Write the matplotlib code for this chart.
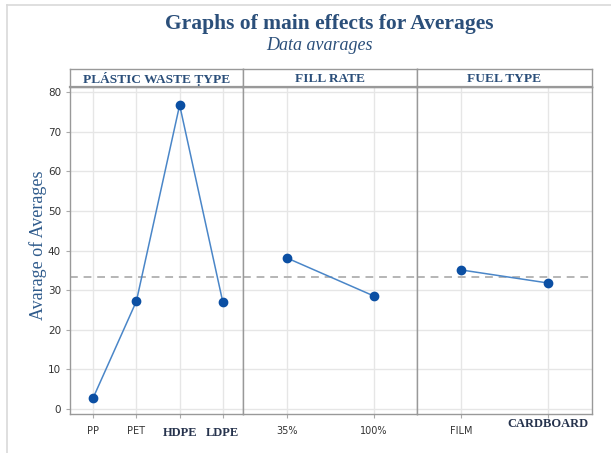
import matplotlib
matplotlib.use("Agg")
import matplotlib.pyplot as plt
from matplotlib.lines import Line2D

# ---- data ----
panel_titles = ["PLÁSTIC WASTE ṬYPE", "FILL RATE", "FUEL TYPE"]
plastic_labels = ["PP", "PET", "HDPE", "LDPE"]
plastic_values = [2.8, 27.2, 76.7, 26.9]
fill_labels = ["35%", "100%"]
fill_values = [38.1, 28.5]
fuel_labels = ["FILM", "CARDBOARD"]
fuel_values = [35.1, 31.8]
overall_mean = 33.3
y_ticks = [0, 10, 20, 30, 40, 50, 60, 70, 80]
serif_labels = {"HDPE", "LDPE", "CARDBOARD"}

W, H = 611, 453
fig = plt.figure(figsize=(W / 100, H / 100), dpi=100)
fig.patch.set_facecolor("white")

def fx(px):
    return px / W

def fy(py):
    return 1 - py / H

# outer light frame
fig.add_artist(Line2D([fx(7), fx(611)], [fy(4.5), fy(4.5)], color="#d9d9d9", lw=1.2))
fig.add_artist(Line2D([fx(7), fx(7)], [fy(4.5), fy(453)], color="#d9d9d9", lw=1.2))

title_color = "#2b4f7a"
fig.text(fx(329), fy(24), "Graphs of main effects for Averages", ha="center", va="center",
         fontsize=15.5, fontweight="bold", family="Liberation Serif", color=title_color)
fig.text(fx(319), fy(46), "Data avarages", ha="center", va="center",
         fontsize=13, style="italic", family="Liberation Serif", color=title_color)

edges = [70, 243, 417, 592]
top_px, bot_px, head_top = 87, 414, 69
panels = [(plastic_labels, plastic_values, (-0.535, 3.465)),
          (fill_labels, fill_values, (-0.506, 1.494)),
          (fuel_labels, fuel_values, (-0.506, 1.506))]

line_c = "#4a86c8"
mark_c = "#0b4fa3"
spine_c = "#999999"

for i, (labs, vals, xl) in enumerate(panels):
    l, r = edges[i], edges[i + 1]
    ax = fig.add_axes([fx(l), fy(bot_px), fx(r - l), fy(top_px) - fy(bot_px)])
    x = list(range(len(labs)))
    ax.plot(x, vals, color=line_c, lw=1.1, zorder=3)
    ax.plot(x, vals, "o", color=mark_c, ms=6, zorder=4)
    ax.axhline(overall_mean, color="#b5b5b5", ls=(0, (4, 3)), lw=1.4, zorder=2)
    ax.set_xlim(*xl)
    ax.set_ylim(-1.26, 81.26)
    ax.set_xticks(x)
    ax.set_xticklabels(labs)
    for t in ax.get_xticklabels():
        if t.get_text() in serif_labels:
            t.set_family("Liberation Serif")
            t.set_fontsize(9)
            t.set_color("#26334d")
            t.set_fontweight("bold")
        else:
            t.set_family("DejaVu Sans")
            t.set_fontsize(7)
            t.set_color("#333333")
    ax.set_yticks(y_ticks)
    ax.grid(True, color="#e6e6e6", lw=1.0, zorder=0)
    ax.set_axisbelow(True)
    for s in ax.spines.values():
        s.set_color(spine_c)
        s.set_linewidth(1.0)
    ax.tick_params(axis="x", length=3, color="#aaaaaa", pad=6)
    if i == 0:
        ax.tick_params(axis="y", length=3, color="#aaaaaa", labelsize=7.5, labelcolor="#333333")
        ax.set_ylabel("Avarage of Averages", family="Liberation Serif", fontsize=13,
                      color="#2f5b8c", labelpad=0)
        ax.yaxis.set_label_coords(-0.132, 0.515)
    else:
        ax.tick_params(axis="y", length=0, labelleft=False)
    if i == 2:
        for lab in ax.get_xticklabels():
            if lab.get_text() == "CARDBOARD":
                lab.set_y(0.025)
    # header strip
    hx = fig.add_axes([fx(l), fy(top_px), fx(r - l), fy(head_top) - fy(top_px)])
    hx.set_xticks([])
    hx.set_yticks([])
    for s in hx.spines.values():
        s.set_color(spine_c)
        s.set_linewidth(1.0)
    hx.spines["bottom"].set_linewidth(1.6)
    hx.text(0.5, 0.45, panel_titles[i], ha="center", va="center", transform=hx.transAxes,
            family="Liberation Serif", fontweight="bold", fontsize=9.6, color=title_color)

fig.savefig("out.png", dpi=100, facecolor="white")
